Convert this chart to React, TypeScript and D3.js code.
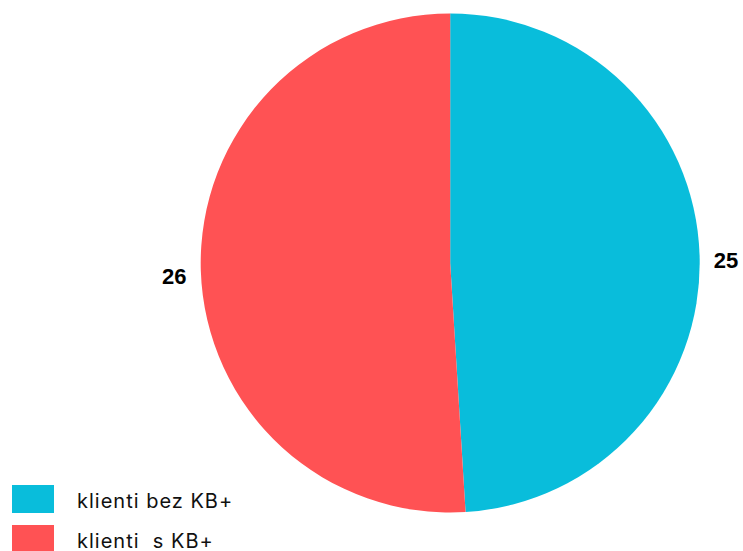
import React from "react";
import * as d3 from "d3";

const categories = ["klienti bez KB+", "klienti  s KB+"];
const values = [25, 26];
const colors = ["#09BDDB", "#FF5254"];

const W = 743;
const H = 551;
const cx = 450.2;
const cy = 263;
const R = 249.5;
const labelR = 276;

export default function App() {
  const pie = d3.pie<number>().sort(null).value((d) => d)(values);
  const arc = d3.arc<d3.PieArcDatum<number>>().innerRadius(0).outerRadius(R);
  const labelArc = d3.arc<d3.PieArcDatum<number>>().innerRadius(labelR).outerRadius(labelR);
  return (
    <svg width={W} height={H} style={{ position: "fixed", left: 0, top: 0, background: "#fff" }}>
      <g transform={`translate(${cx},${cy})`}>
        {pie.map((p, i) => (
          <path key={i} d={arc(p) || ""} fill={colors[i]} />
        ))}
        {pie.map((p, i) => {
          const [x, y] = labelArc.centroid(p);
          return (
            <text
              key={"l" + i}
              x={x}
              y={y + 13}
              textAnchor="middle"
              fontFamily="Liberation Sans, Arial, sans-serif"
              fontWeight="bold"
              fontSize={22}
              fill="#000"
            >
              {values[i]}
            </text>
          );
        })}
      </g>
      {categories.map((c, i) => (
        <g key={c} transform={`translate(0,${i * 40})`}>
          <rect x={12} y={485} width={42} height={28} fill={colors[i]} />
          <text
            x={77}
            y={508}
            fontFamily="Inter, sans-serif"
            fontSize={20}
            letterSpacing={1}
            fill="#111"
            style={{ whiteSpace: "pre" }}
          >
            {c}
          </text>
        </g>
      ))}
    </svg>
  );
}
